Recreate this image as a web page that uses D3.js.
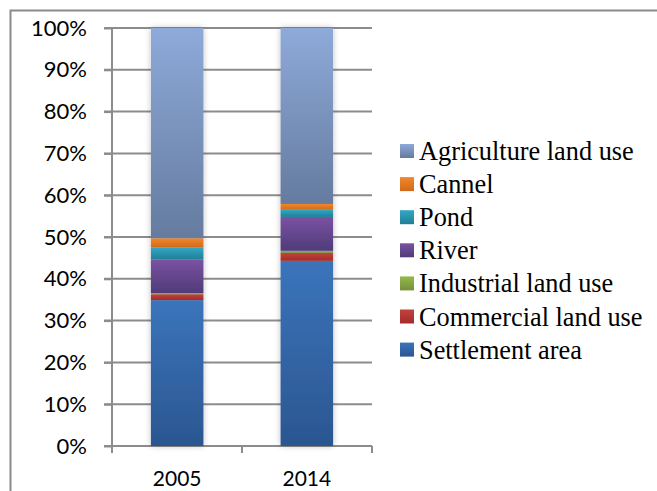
<!DOCTYPE html>
<html><head><meta charset="utf-8">
<script src="https://cdn.jsdelivr.net/npm/d3@7"></script>
<style>body{margin:0;background:#fff}svg{display:block}</style>
</head><body>
<svg id="c" width="657" height="491"></svg>
<script>
const years = ["2005", "2014"];
const seriesNames = ["Settlement area","Commercial land use","Industrial land use","River","Pond","Cannel","Agriculture land use"];
const settlement = [34.9, 44.3];
const commercial = [1.4, 1.9];
const industrial = [0.3, 0.5];
const river = [8.0, 8.1];
const pond = [2.9, 1.7];
const cannel = [2.2, 1.4];
const agriculture = [50.3, 42.1];
const tickLabels = ["0%","10%","20%","30%","40%","50%","60%","70%","80%","90%","100%"];
const topColors = ["#3b74bb","#c4423d","#97b84c","#7b52a3","#33a7c4","#f3872a","#8eaad9"];
const botColors = ["#2b5690","#a12c2a","#73903a","#4f3b78","#1f7f96","#cf6a1c","#657b9f"];

const values = [settlement, commercial, industrial, river, pond, cannel, agriculture];
const svg = d3.select("#c");
const defs = svg.append("defs");
seriesNames.forEach((n,i)=>{
  const g = defs.append("linearGradient").attr("id","g"+i).attr("x1",0).attr("y1",0).attr("x2",0).attr("y2",1);
  g.append("stop").attr("offset","0%").attr("stop-color",topColors[i]);
  g.append("stop").attr("offset","100%").attr("stop-color",botColors[i]);
});
const f = defs.append("filter").attr("id","sh").attr("x","-20%").attr("y","-5%").attr("width","140%").attr("height","110%");
f.append("feGaussianBlur").attr("in","SourceAlpha").attr("stdDeviation",3).attr("result","b");
f.append("feComponentTransfer").attr("in","b").attr("result","b2").append("feFuncA").attr("type","linear").attr("slope",0.25);
const fm = f.append("feMerge"); fm.append("feMergeNode").attr("in","b2"); fm.append("feMergeNode").attr("in","SourceGraphic");

// outer border
svg.append("path").attr("d","M10.5,500 L10.5,10.5 L657,10.5").attr("fill","none").attr("stroke","#8a8a8a").attr("stroke-width",2);

const x = d3.scaleBand().domain(years).range([112,372]).paddingInner(0.595).paddingOuter(0.3);
const y = d3.scaleLinear().domain([0,100]).range([446,28]);

// gridlines
svg.append("g").selectAll("line").data(d3.range(0,101,10)).join("line")
  .attr("x1",104).attr("x2",372).attr("y1",d=>y(d)).attr("y2",d=>y(d))
  .attr("stroke","#8c8c8c").attr("stroke-width",2);

// y axis
const ya = svg.append("g").attr("transform","translate(112,0)")
  .call(d3.axisLeft(y).tickValues(d3.range(0,101,10)).tickFormat((d,i)=>tickLabels[i]).tickSize(8).tickPadding(17));
ya.select(".domain").attr("stroke","#8c8c8c").attr("stroke-width",2).attr("d","M0,28V446");
ya.selectAll(".tick line").attr("stroke","#8c8c8c").attr("stroke-width",2);
ya.selectAll("text").attr("font-family","Lato, 'Open Sans', sans-serif").attr("font-size",22).attr("fill","#000");

// x axis
const xa = svg.append("g").attr("transform","translate(0,446)")
  .call(d3.axisBottom(x).tickSize(0).tickPadding(25));
xa.select(".domain").remove();
xa.selectAll("text").attr("font-family","Lato, 'Open Sans', sans-serif").attr("font-size",21).attr("fill","#000");
svg.append("g").selectAll("line").data([112, (x("2005")+x.bandwidth()+x("2014"))/2, 372]).join("line")
  .attr("x1",d=>d).attr("x2",d=>d).attr("y1",446).attr("y2",453).attr("stroke","#8c8c8c").attr("stroke-width",2);
svg.append("line").attr("x1",112).attr("x2",372).attr("y1",446).attr("y2",446).attr("stroke","#8c8c8c").attr("stroke-width",2);

// stacked bars
const rows = years.map((yr,j)=>{const o={year:yr}; seriesNames.forEach((n,i)=>o[n]=values[i][j]); return o;});
const stack = d3.stack().keys(seriesNames)(rows);
const bars = svg.append("g").attr("filter","url(#sh)");
stack.forEach((s,i)=>{
  bars.selectAll(null).data(s).join("rect")
    .attr("x",d=>x(d.data.year)).attr("width",x.bandwidth())
    .attr("y",d=>y(d[1])).attr("height",d=>y(d[0])-y(d[1]))
    .attr("fill","url(#g"+i+")");
});

// legend (top = last series)
const leg = svg.append("g");
const order = seriesNames.map((n,i)=>i).reverse();
order.forEach((i,k)=>{
  const cy = 151 + k*33.1;
  leg.append("rect").attr("x",400).attr("y",cy-7).attr("width",14).attr("height",14).attr("fill","url(#g"+i+")");
  leg.append("text").attr("x",419).attr("y",cy+9).style("font-family","'Liberation Serif', 'Times New Roman', serif")
    .attr("font-size",26.3).attr("fill","#000").text(seriesNames[i]);
});
</script>
</body></html>
